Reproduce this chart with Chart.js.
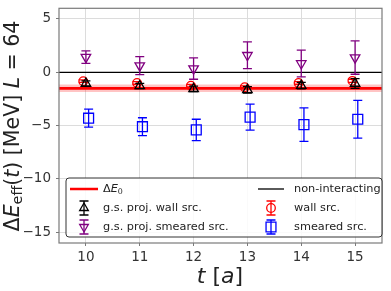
<!DOCTYPE html>
<html>
<head>
<meta charset="utf-8">
<script src="https://cdn.jsdelivr.net/npm/chart.js@4.4.1/dist/chart.umd.min.js"></script>
<style>
  html, body { margin: 0; padding: 0; background: #fff; }
  #wrap { width: 391px; height: 291px; position: relative; }
</style>
</head>
<body>
<div id="wrap"><canvas id="chart" width="391" height="291"></canvas></div>
<script>
// --- data ---
const tValues = [10, 11, 12, 13, 14, 15];
const xTicks = [10, 11, 12, 13, 14, 15];
const yTicks = [5, 0, -5, -10, -15];

const gsWall = [-1.05, -1.28, -1.55, -1.65, -1.25, -1.05];
const gsWallErr = [0.25, 0.25, 0.25, 0.3, 0.3, 0.45];
const gsSmeared = [1.42, 0.63, 0.35, 1.6, 0.83, 1.38];
const gsSmearedErr = [0.58, 0.84, 1.0, 1.25, 1.25, 1.56];
const wallSrc = [-0.83, -1.0, -1.25, -1.4, -1.0, -0.8];
const wallSrcErr = [0.12, 0.12, 0.12, 0.12, 0.12, 0.15];
const smearedSrc = [-4.3, -5.1, -5.4, -4.2, -4.9, -4.4];
const smearedSrcErr = [0.84, 0.84, 1.0, 1.22, 1.57, 1.77];

const deltaE0 = -1.5;
const deltaE0Err = 0.35;
const nonInteracting = 0;

const FONT = '"DejaVu Sans", sans-serif';
const shift = 0.05; // small horizontal offset used between series

const pts = (vals, dx) => vals.map((v, i) => ({ x: tValues[i] + dx, y: v }));
const flat = (v) => [{ x: 9.5, y: v }, { x: 15.5, y: v }];

// error bars drawn through the chart scales
const errorBars = {
  id: 'errorBars',
  afterDatasetDraw(chart, args) {
    const ds = chart.data.datasets[args.index];
    if (!ds.errors) return;
    const { ctx, scales: { x, y } } = chart;
    ctx.save();
    ctx.strokeStyle = ds.borderColor;
    ctx.lineWidth = 1.3;
    ds.data.forEach((p, i) => {
      const px = x.getPixelForValue(p.x);
      const y1 = y.getPixelForValue(p.y + ds.errors[i]);
      const y2 = y.getPixelForValue(p.y - ds.errors[i]);
      ctx.beginPath();
      ctx.moveTo(px, y1); ctx.lineTo(px, y2);
      ctx.moveTo(px - 4.5, y1); ctx.lineTo(px + 4.5, y1);
      ctx.moveTo(px - 4.5, y2); ctx.lineTo(px + 4.5, y2);
      ctx.stroke();
    });
    ctx.restore();
  }
};

// text with italic pieces and subscripts
function richWidth(ctx, parts, size) {
  let w = 0;
  parts.forEach(p => {
    const s = p.sub ? size * 0.7 : size;
    ctx.font = (p.it ? 'italic ' : '') + s + 'px ' + FONT;
    w += ctx.measureText(p.t).width;
  });
  return w;
}
function drawRich(ctx, parts, x, y, size, align) {
  let cx = align === 'center' ? x - richWidth(ctx, parts, size) / 2 : x;
  ctx.textAlign = 'left';
  ctx.textBaseline = 'middle';
  parts.forEach(p => {
    const s = p.sub ? size * 0.7 : size;
    ctx.font = (p.it ? 'italic ' : '') + s + 'px ' + FONT;
    ctx.fillText(p.t, cx, p.sub ? y + size * 0.22 : y);
    cx += ctx.measureText(p.t).width;
  });
}

function drawMarker(ctx, style, x, y, r, rot) {
  Chart.helpers.drawPoint(ctx, { pointStyle: style, radius: r, rotation: rot || 0, borderWidth: 1.3 }, x, y);
}

function legendErr(ctx, x, y, color, style, rot, r) {
  ctx.strokeStyle = color;
  ctx.fillStyle = 'rgba(0,0,0,0)';
  ctx.lineWidth = 1.3;
  ctx.beginPath();
  ctx.moveTo(x, y - 7); ctx.lineTo(x, y + 7);
  ctx.moveTo(x - 4.5, y - 7); ctx.lineTo(x + 4.5, y - 7);
  ctx.moveTo(x - 4.5, y + 7); ctx.lineTo(x + 4.5, y + 7);
  ctx.stroke();
  drawMarker(ctx, style, x, y, r, rot);
}

const frameAndLegend = {
  id: 'frameAndLegend',
  afterDraw(chart) {
    const { ctx, chartArea: a } = chart;
    ctx.save();
    // frame
    ctx.strokeStyle = '#7a7a7a';
    ctx.lineWidth = 1.2;
    ctx.strokeRect(a.left, a.top, a.right - a.left, a.bottom - a.top);

    // axis titles
    ctx.fillStyle = '#222';
    drawRich(ctx, [{ t: 't', it: true }, { t: ' [' }, { t: 'a', it: true }, { t: ']' }], 220, 277, 22, 'center');
    ctx.save();
    ctx.translate(14, 126);
    ctx.rotate(-Math.PI / 2);
    drawRich(ctx, [{ t: 'Δ' }, { t: 'E', it: true }, { t: 'eff', sub: true }, { t: '(' }, { t: 't', it: true },
      { t: ') [MeV] ' }, { t: 'L', it: true }, { t: ' = 64' }], 0, 0, 20.5, 'center');
    ctx.restore();

    // legend box
    const lx = 66, ly = 178, lw = 316, lh = 59;
    ctx.beginPath();
    ctx.roundRect(lx, ly, lw, lh, 3);
    ctx.fillStyle = 'rgba(255,255,255,0.85)';
    ctx.fill();
    ctx.strokeStyle = '#333';
    ctx.lineWidth = 1;
    ctx.stroke();

    const rows = [189, 208, 227];
    const fs = 11.3;
    // left column
    ctx.strokeStyle = 'red'; ctx.lineWidth = 2.5;
    ctx.beginPath(); ctx.moveTo(70, rows[0]); ctx.lineTo(98, rows[0]); ctx.stroke();
    ctx.fillStyle = '#222';
    drawRich(ctx, [{ t: 'Δ' }, { t: 'E', it: true }, { t: '0', sub: true }], 103, rows[0], fs);
    legendErr(ctx, 84, rows[1], 'black', 'triangle', 0, 5);
    ctx.fillStyle = '#222';
    drawRich(ctx, [{ t: 'g.s. proj. wall src.' }], 103, rows[1], fs);
    legendErr(ctx, 84, rows[2], 'purple', 'triangle', 180, 5);
    ctx.fillStyle = '#222';
    drawRich(ctx, [{ t: 'g.s. proj. smeared src.' }], 103, rows[2], fs);
    // right column
    ctx.strokeStyle = 'black'; ctx.lineWidth = 1.3;
    ctx.beginPath(); ctx.moveTo(258, rows[0]); ctx.lineTo(284, rows[0]); ctx.stroke();
    ctx.fillStyle = '#222';
    drawRich(ctx, [{ t: 'non-interacting' }], 294, rows[0], fs);
    legendErr(ctx, 271, rows[1], 'red', 'circle', 0, 4.3);
    ctx.fillStyle = '#222';
    drawRich(ctx, [{ t: 'wall src.' }], 294, rows[1], fs);
    legendErr(ctx, 271, rows[2], 'blue', 'rect', 0, 7);
    ctx.fillStyle = '#222';
    drawRich(ctx, [{ t: 'smeared src.' }], 294, rows[2], fs);
    ctx.restore();
  }
};

const hollow = (label, data, errors, color, style, r, rot, order) => ({
  type: 'scatter', label, data, errors,
  borderColor: color, backgroundColor: 'rgba(0,0,0,0)',
  pointStyle: style, pointRadius: r, pointRotation: rot, pointBorderWidth: 1.3,
  order
});

new Chart(document.getElementById('chart'), {
  type: 'scatter',
  data: {
    datasets: [
      { type: 'line', label: 'band lo', data: flat(deltaE0 - deltaE0Err), borderWidth: 0, pointRadius: 0,
        backgroundColor: 'rgba(255,0,0,0)', fill: false, order: 9 },
      { type: 'line', label: 'band hi', data: flat(deltaE0 + deltaE0Err), borderWidth: 0, pointRadius: 0,
        backgroundColor: 'rgba(255,60,60,0.3)', fill: '-1', order: 8 },
      { type: 'line', label: 'ΔE0', data: flat(deltaE0), borderColor: 'red', borderWidth: 2.8, pointRadius: 0, order: 7 },
      { type: 'line', label: 'non-interacting', data: flat(nonInteracting), borderColor: 'black', borderWidth: 1.2, pointRadius: 0, order: 6 },
      hollow('wall src.', pts(wallSrc, -shift), wallSrcErr, 'red', 'circle', 4.3, 0, 5),
      hollow('smeared src.', pts(smearedSrc, shift), smearedSrcErr, 'blue', 'rect', 7, 0, 4),
      hollow('g.s. proj. smeared src.', pts(gsSmeared, 0), gsSmearedErr, 'purple', 'triangle', 5.5, 180, 3),
      hollow('g.s. proj. wall src.', pts(gsWall, 0), gsWallErr, 'black', 'triangle', 5.5, 0, 2)
    ]
  },
  options: {
    responsive: false,
    animation: false,
    devicePixelRatio: 1,
    layout: { padding: { left: 0, right: 9, top: 5, bottom: 0 } },
    plugins: { legend: { display: false }, tooltip: { enabled: false } },
    scales: {
      x: {
        type: 'linear', min: 9.5, max: 15.5,
        afterBuildTicks: s => { s.ticks = xTicks.map(v => ({ value: v })); },
        afterFit: s => { s.height = 48; s.paddingLeft = 0; s.paddingRight = 0; },
        grid: { color: '#dcdcdc', tickColor: '#7a7a7a', tickLength: 3, lineWidth: 1 },
        border: { display: false },
        ticks: { color: '#333', font: { family: FONT, size: 13.5 }, padding: 3 }
      },
      y: {
        type: 'linear', min: -16, max: 6,
        afterBuildTicks: s => { s.ticks = yTicks.map(v => ({ value: v })); },
        afterFit: s => { s.width = 59; s.paddingTop = 0; s.paddingBottom = 0; },
        grid: { color: '#dcdcdc', tickColor: '#7a7a7a', tickLength: 3, lineWidth: 1 },
        border: { display: false },
        ticks: { color: '#333', font: { family: FONT, size: 13.5 }, padding: 5,
          callback: v => String(v).replace('-', '\u2212') }
      }
    }
  },
  plugins: [errorBars, frameAndLegend]
});
</script>
</body>
</html>
